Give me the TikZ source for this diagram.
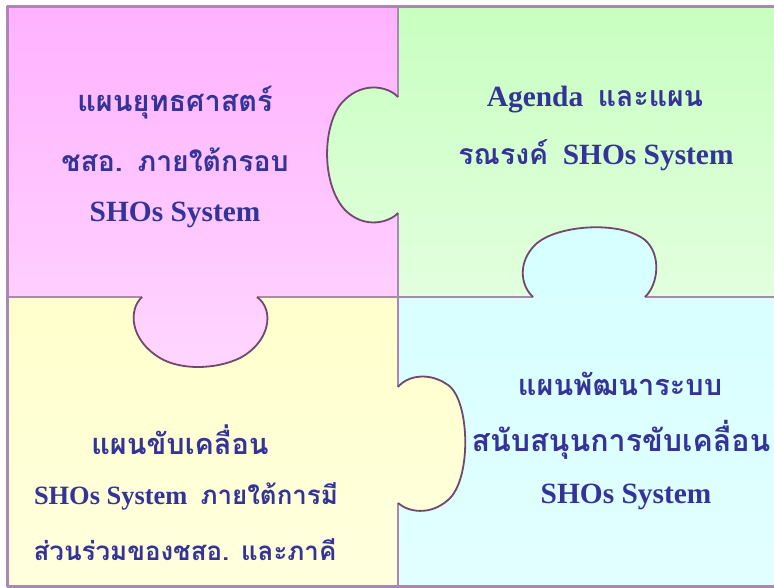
\documentclass[tikz,border=0pt]{standalone}
\usepackage{fontspec}
\setmainfont{Liberation Serif}
\newfontfamily\thaifont[Script=Thai,Scale=1.0]{Loma}
\definecolor{txt}{RGB}{51,51,153}
\definecolor{bord}{RGB}{170,136,176}
\definecolor{knobline}{RGB}{112,72,112}
\newcommand\tht[1]{{\fontsize{28.5}{30}\selectfont\thaifont #1}}
\begin{document}
\begin{tikzpicture}[x=1bp,y=-1bp,
  lbl/.style={text=txt,font=\fontsize{29.5}{32}\selectfont\bfseries,inner sep=0pt,anchor=center},
  th/.style={font=\fontsize{29}{32}\selectfont\thaifont\bfseries},
  piece/.style={draw=bord,line width=2.5bp,line join=round}]
\useasboundingbox (0,0) rectangle (774,588);
\fill[white] (0,0) rectangle (774,588);
% pink piece
\shade[top color={rgb,255:red,255;green,178;blue,255},bottom color={rgb,255:red,255;green,214;blue,255}]
 (7,7) -- (398,7) -- (398,97) .. controls (388,86) and (360,80) .. (340,105) .. controls (322,130) and (322,185) .. (345,210) .. controls (365,230) and (390,222) .. (398,213) -- (398,297) -- (257,297) .. controls (275,310) and (270,342) .. (240,358) .. controls (215,370) and (180,370) .. (160,358) .. controls (130,340) and (128,310) .. (142,297) -- (7,297) -- cycle;
% green piece
\shade[top color={rgb,255:red,200;green,255;blue,192},bottom color={rgb,255:red,226;green,255;blue,222}]
 (398,7) -- (774,7) -- (774,297) -- (645,297) .. controls (658,285) and (662,255) .. (645,240) .. controls (620,220) and (555,225) .. (535,245) .. controls (518,262) and (520,285) .. (533,297) -- (398,297) -- (398,213) .. controls (390,222) and (365,230) .. (345,210) .. controls (322,185) and (322,130) .. (340,105) .. controls (360,80) and (388,86) .. (398,97) -- cycle;
% yellow piece
\shade[top color={rgb,255:red,255;green,255;blue,204},bottom color={rgb,255:red,255;green,255;blue,222}]
 (7,297) -- (142,297) .. controls (128,310) and (130,340) .. (160,358) .. controls (180,370) and (215,370) .. (240,358) .. controls (270,342) and (275,310) .. (257,297) -- (398,297) -- (398,387) .. controls (408,375) and (430,372) .. (448,385) .. controls (470,400) and (472,480) .. (448,500) .. controls (430,516) and (408,512) .. (398,503) -- (398,586) -- (7,586) -- cycle;
% cyan piece
\shade[top color={rgb,255:red,214;green,255;blue,255},bottom color={rgb,255:red,226;green,255;blue,255}]
 (398,297) -- (533,297) .. controls (520,285) and (518,262) .. (535,245) .. controls (555,225) and (620,220) .. (645,240) .. controls (662,255) and (658,285) .. (645,297) -- (774,297) -- (774,586) -- (398,586) -- (398,503) .. controls (408,512) and (430,516) .. (448,500) .. controls (472,480) and (470,400) .. (448,385) .. controls (430,372) and (408,375) .. (398,387) -- cycle;
% straight borders
\draw[piece,line width=3bp] (774,7) -- (7,7) -- (7,586) -- (774,586);
\draw[piece] (398,7) -- (398,97) (398,213) -- (398,387) (398,503) -- (398,586);
\draw[piece] (7,297) -- (142,297) (257,297) -- (533,297) (645,297) -- (774,297);
% knob outlines
\draw[knobline,line width=1.8bp] (398,97) .. controls (388,86) and (360,80) .. (340,105) .. controls (322,130) and (322,185) .. (345,210) .. controls (365,230) and (390,222) .. (398,213);
\draw[knobline,line width=1.8bp] (533,297) .. controls (520,285) and (518,262) .. (535,245) .. controls (555,225) and (620,220) .. (645,240) .. controls (662,255) and (658,285) .. (645,297);
\draw[knobline,line width=1.8bp] (142,297) .. controls (128,310) and (130,340) .. (160,358) .. controls (180,370) and (215,370) .. (240,358) .. controls (270,342) and (275,310) .. (257,297);
\draw[knobline,line width=1.8bp] (398,387) .. controls (408,375) and (430,372) .. (448,385) .. controls (470,400) and (472,480) .. (448,500) .. controls (430,516) and (408,512) .. (398,503);
% texts
\node[lbl,th] (p1) at (175,103) {แผนยุทธศาสตร์};
\node[lbl] (p2) at (175,160) {\tht{ชสอ.}\ \ \tht{ภายใต้กรอบ}};
\node[lbl] (p3) at (175,215) {SHOs System};
\node[lbl] (g1) at (595,100) {Agenda\ \ \tht{และแผน}};
\node[lbl] (g2) at (596,155) {\tht{รณรงค์}\ \ SHOs System};
\node[lbl,th] (y1) at (180,440) {แผนขับเคลื่อน};
\node[lbl,font=\fontsize{26.5}{30}\selectfont\bfseries] (y2) at (186,496) {SHOs System\ \ {\fontsize{26}{30}\selectfont\thaifont ภายใต้การมี}};
\node[lbl,font=\fontsize{26}{30}\selectfont\thaifont\bfseries] (y3) at (185,550) {ส่วนร่วมของชสอ. และภาคี};
\node[lbl,th] (c1) at (620,384) {แผนพัฒนาระบบ};
\node[lbl,font=\fontsize{30.5}{32}\selectfont\thaifont\bfseries] (c2) at (621,440) {สนับสนุนการขับเคลื่อน};
\node[lbl] (c3) at (626,497) {SHOs System};
\end{tikzpicture}
\end{document}
